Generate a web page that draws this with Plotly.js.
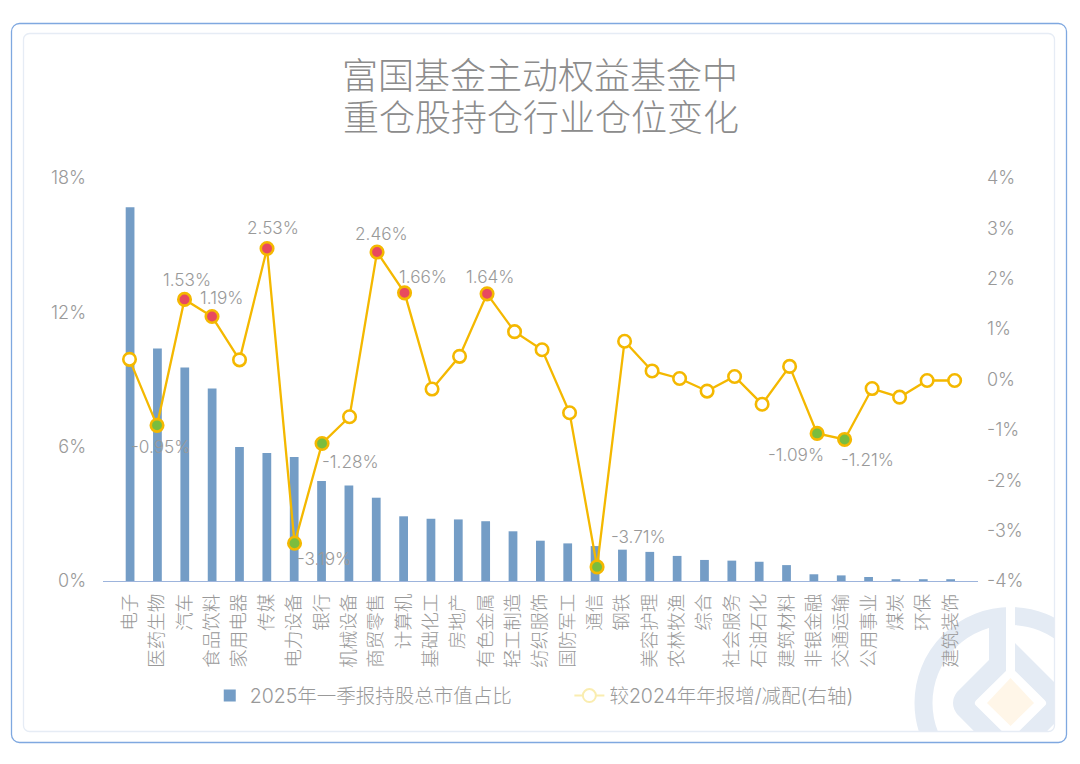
<!DOCTYPE html>
<html><head><meta charset="utf-8">
<script src="https://cdn.plot.ly/plotly-3.0.1.min.js"></script>
<style>
html,body{margin:0;padding:0;background:#fff;width:1080px;height:764px;overflow:hidden}
#wm{position:absolute;left:0;top:0}
#chart{position:absolute;left:0;top:0;width:1080px;height:764px}
</style></head><body>
<svg id="wm" width="1080" height="764">
<defs><clipPath id="c"><rect x="24" y="34" width="1030" height="698" rx="6"/></clipPath></defs>
<g clip-path="url(#c)">
<circle cx="1010.5" cy="703" r="87" fill="none" stroke="#E4EBF4" stroke-width="18"/>
<path d="M989 620 V660 L957 692 Q949 703 957 714 L1010.5 768 L1064 714 Q1072 703 1064 692 L1015 643 H1006 V620 Z" fill="#E4EBF4"/>
<path d="M979 703 L1010.5 672 L1042 703 L1010.5 734 Z" fill="#fff" stroke="#fff" stroke-width="8" stroke-linejoin="round"/>
<rect x="1006" y="600" width="9" height="72" fill="#fff"/>
<path d="M1010.5 678 L1034 703 L1010.5 726 L987 703 Z" fill="#FFF6E8"/>
</g>
<rect x="11.5" y="23.5" width="1055" height="719" rx="8" fill="none" stroke="#7FA8E0" stroke-width="1.3"/>
<rect x="23.5" y="33.5" width="1031" height="698" rx="6" fill="none" stroke="#E6ECF5" stroke-width="1.3"/>
</svg>
<div id="chart"></div>
<script>
const categories = ['电子','医药生物','汽车','食品饮料','家用电器','传媒','电力设备','银行','机械设备','商贸零售','计算机','基础化工','房地产','有色金属','轻工制造','纺织服饰','国防军工','通信','钢铁','美容护理','农林牧渔','综合','社会服务','石油石化','建筑材料','非银金融','交通运输','公用事业','煤炭','环保','建筑装饰'];
const weights = [16.69,10.39,9.54,8.6,5.98,5.72,5.54,4.47,4.27,3.72,2.89,2.78,2.75,2.67,2.22,1.8,1.68,1.56,1.4,1.3,1.12,0.94,0.91,0.86,0.71,0.3,0.25,0.18,0.08,0.08,0.08];
const changes = [0.4,-0.91,1.59,1.25,0.39,2.6,-3.25,-1.27,-0.74,2.53,1.72,-0.19,0.46,1.7,0.95,0.59,-0.66,-3.72,0.76,0.17,0.02,-0.23,0.06,-0.49,0.26,-1.07,-1.19,-0.18,-0.35,-0.02,-0.02];
const seriesNames = ['2025年一季报持股总市值占比','较2024年年报增/减配(右轴)'];
const titleLine1 = '富国基金主动权益基金中';
const titleLine2 = '重仓股持仓行业仓位变化';
const leftTicks = [0,6,12,18];
const leftTickText = ['0%','6%','12%','18%'];
const rightTicks = [-4,-3,-2,-1,0,1,2,3,4];
const rightTickText = ['-4%','-3%','-2%','-1%','0%','1%','2%','3%','4%'];
// labelled points: category, label text, pixel offset of the label from its point
const callouts = [
 ['医药生物','-0.95%',3,21],['汽车','1.53%',2,-20],['食品饮料','1.19%',9,-19],['传媒','2.53%',6,-21],
 ['电力设备','-3.19%',29,15],['银行','-1.28%',28,18],['商贸零售','2.46%',4,-19],['计算机','1.66%',18,-16],
 ['有色金属','1.64%',3,-17],['通信','-3.71%',41,-30],['非银金融','-1.09%',-21,21],['交通运输','-1.21%',23,20]
];
const upColor='#E8495F', downColor='#7ABD3E', openColor='#FFFFFF';
const gray='#999999', font='Inter, "Noto Sans CJK SC"';
const markerColors = changes.map((v,i)=>{
  const hit = callouts.some(c=>c[0]===categories[i]);
  return !hit ? openColor : (v>0?upColor:downColor);
});
const data = [
 {type:'bar',x:categories.map((c,i)=>i),y:weights,name:seriesNames[0],width:0.32,marker:{color:'#749DC6'},xaxis:'x',yaxis:'y',showlegend:true,legend:'legend',hoverinfo:'skip'},
 {type:'scatter',mode:'lines+markers',x:categories.map((c,i)=>i),y:changes,line:{color:'#F4B800',width:2.3},marker:{size:12.5,color:markerColors,line:{color:'#F4B800',width:2.6}},xaxis:'x2',yaxis:'y2',showlegend:false,hoverinfo:'skip'},
 {type:'scatter',mode:'lines+markers',x:[null],y:[null],name:seriesNames[1],line:{color:'#FAEDB0',width:2},marker:{size:13,color:'#FFFFFF',line:{color:'#FAEDB0',width:2}},xaxis:'x2',yaxis:'y2',showlegend:true,legend:'legend2'}
];
const tf={family:font,size:18,color:gray,weight:300};
const xf={family:font,size:18.5,color:gray,weight:300};
const af={family:font,size:17.2,color:gray,weight:300};
const lf={family:font,size:19.5,color:gray,weight:300};
const titleFont={family:font,size:36,color:'#8C8C8C',weight:300};
const layout={
 width:1080,height:764,
 paper_bgcolor:'rgba(0,0,0,0)',plot_bgcolor:'rgba(0,0,0,0)',
 margin:{l:103,r:102,t:177.5,b:183,pad:0},
 font:tf,
 title:{text:titleLine1,x:0.5,xanchor:'center',y:0.9,yanchor:'middle',font:titleFont},
 bargap:0.68,
 xaxis:{range:[-0.99,31],tickmode:'array',tickvals:categories.map((c,i)=>i),ticktext:categories,tickangle:-90,ticks:'',showgrid:false,zeroline:false,showline:true,linecolor:'#9DB4DC',linewidth:1.3,tickfont:xf,ticklabelstandoff:4,automargin:false},
 xaxis2:{range:[-0.964,30.85],overlaying:'x',anchor:'y2',side:'top',visible:false},
 yaxis:{range:[0,18],tickmode:'array',tickvals:leftTicks,ticktext:leftTickText,ticks:'',showgrid:false,zeroline:false,showline:false,tickfont:tf,ticklabelstandoff:16,automargin:false},
 yaxis2:{range:[-4,4],overlaying:'y',side:'right',anchor:'x',tickmode:'array',tickvals:rightTicks,ticktext:rightTickText,ticks:'',showgrid:false,zeroline:false,showline:false,tickfont:tf,ticklabelstandoff:8,automargin:false},
 legend:{x:0.122,xref:'paper',y:-0.285,yanchor:'middle',xanchor:'left',orientation:'h',font:lf,bgcolor:'rgba(0,0,0,0)',itemwidth:30},
 legend2:{x:0.533,xref:'paper',y:-0.285,yanchor:'middle',xanchor:'left',orientation:'h',font:lf,bgcolor:'rgba(0,0,0,0)',itemwidth:30},
 annotations:callouts.map(c=>{
   const i=categories.indexOf(c[0]);
   return {xref:'x2',yref:'y2',x:i,y:changes[i],text:c[1],showarrow:false,xshift:c[2],yshift:-c[3],font:af,xanchor:'center',yanchor:'middle'};
 }).concat([{xref:'paper',yref:'paper',x:0.5,y:1.1499,text:titleLine2,showarrow:false,font:titleFont,xanchor:'center',yanchor:'middle'}])
};
Plotly.newPlot('chart',data,layout,{displayModeBar:false,staticPlot:true});
</script>
</body></html>
